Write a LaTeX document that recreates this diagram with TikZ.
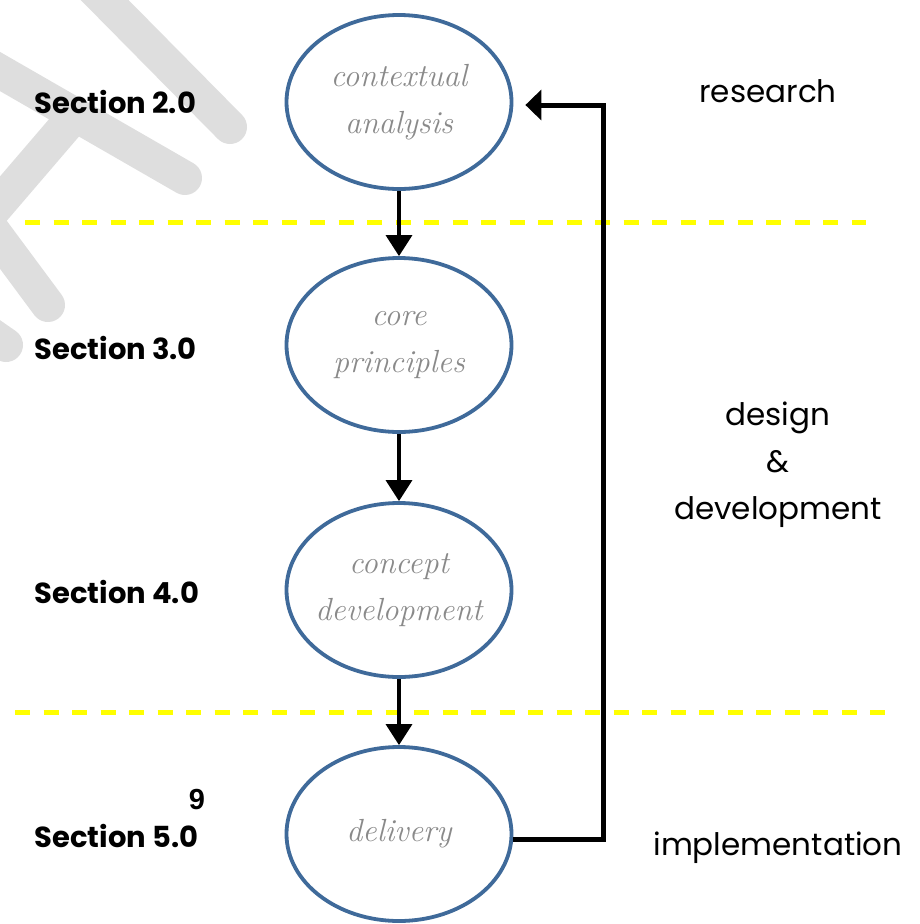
\documentclass[tikz,border=0pt]{standalone}
\usepackage{fontspec}
\setmainfont{Poppins}
\newfontfamily\handfont{Latin Modern Roman}
\newfontfamily\numfont{Liberation Sans}
\usetikzlibrary{arrows.meta,shapes.geometric}
\definecolor{ovalblue}{HTML}{3F6A9A}
\definecolor{markgray}{HTML}{DEDEDE}
\definecolor{penyellow}{HTML}{FFFF00}
\definecolor{inkgray}{HTML}{8A8A8A}
\begin{document}
\begin{tikzpicture}[x=1pt,y=-1pt,
  oval/.style={ellipse, draw=ovalblue, line width=3.8pt, minimum width=225pt,
    minimum height=174pt, inner xsep=-10pt, inner ysep=0pt, align=center, text=inkgray,
    font=\handfont\itshape\fontsize{32}{47}\selectfont},
  seclabel/.style={anchor=west, font=\bfseries\fontsize{29}{30}\selectfont},
  phase/.style={align=center, font=\fontsize{31}{47}\selectfont},
  flow/.style={line width=3.5pt, -{Triangle[length=21pt,width=26pt]}},
  feedback/.style={line width=5pt, -{Triangle[length=16pt,width=30pt]}},
  divider/.style={penyellow, line width=5pt, dash pattern=on 15pt off 13.5pt},
  bgstroke/.style={markgray, line width=34pt, line cap=round, line join=round}]
\useasboundingbox (0,0) rectangle (920,924);
% background strokes
\draw[bgstroke] (75,-30) -- (230,127);
\draw[bgstroke] (-20,60) -- (185,178);
\draw[bgstroke] (75,115) -- (-15,220) -- (48,305);
\draw[bgstroke] (-30,320) -- (6,345);
% phase dividers
\draw[divider] (25,222) -- (866,222);
\draw[divider] (15,712) -- (897,712);
% steps
\node[oval] (ctx) at (399,102) {contextual\\analysis};
\node[oval] (core) at (399,345) {core\\principles};
\node[oval] (concept) at (399,590) {concept\\development};
\node[oval] (deliv) at (399,834) {delivery};
\draw[flow] (ctx) -- (core);
\draw[flow] (core) -- (concept);
\draw[flow] (concept) -- (deliv);
\coordinate (loop) at (603,0);
\draw[feedback] ([yshift=-5pt]deliv.east) -- ([yshift=-5pt]deliv.east -| loop)
  -- ([yshift=-3pt]ctx.east -| loop) -- ([xshift=12pt,yshift=-3pt]ctx.east);
% section labels
\node[seclabel] (sec2) at (31,102) {Section 2.0};
\node[seclabel] (sec3) at (31,348) {Section 3.0};
\node[seclabel] (sec4) at (31,592) {Section 4.0};
\node[seclabel] (sec5) at (31,836) {Section 5.0};
\node[font=\numfont\bfseries\fontsize{29}{29}\selectfont] (pagenum) at (197,800) {9};
% phase labels
\node[phase] (research) at (768,91) {research};
\node[phase] (design) at (778,465) {design\\\&\\development};
\node[phase] (impl) at (778,848) {implementation};
\end{tikzpicture}
\end{document}
